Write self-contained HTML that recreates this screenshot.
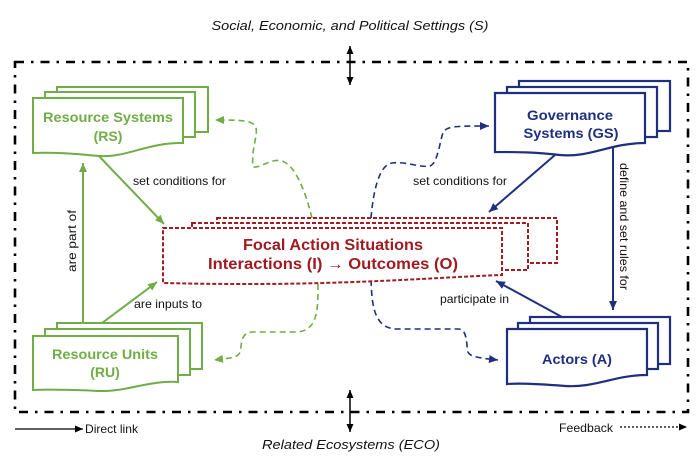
<!DOCTYPE html>
<html><head><meta charset="utf-8"><style>
html,body{margin:0;padding:0;background:#fff;}
svg{display:block;}
text{font-family:"Liberation Sans",Arial,sans-serif;}
</style></head><body>
<svg width="700" height="460" viewBox="0 0 700 460" xmlns="http://www.w3.org/2000/svg">
<defs>
<marker id="mg" markerUnits="userSpaceOnUse" markerWidth="10" markerHeight="9" refX="9" refY="4" orient="auto"><path d="M0,0 L9,4 L0,8 z" fill="#70ad47"/></marker>
<marker id="mb" markerUnits="userSpaceOnUse" markerWidth="10" markerHeight="9" refX="9" refY="4" orient="auto"><path d="M0,0 L9,4 L0,8 z" fill="#1f2f80"/></marker>
<marker id="mk" markerUnits="userSpaceOnUse" markerWidth="9" markerHeight="8" refX="8" refY="3.5" orient="auto-start-reverse"><path d="M0,0 L8,3.5 L0,7 z" fill="#000"/></marker>
</defs>
<rect width="700" height="460" fill="#fff"/>

<!-- top / bottom titles -->
<text x="350" y="30" font-size="13" font-style="italic" text-anchor="middle" textLength="277" lengthAdjust="spacingAndGlyphs" fill="#111">Social, Economic, and Political Settings (S)</text>
<text x="351" y="449" font-size="13" font-style="italic" text-anchor="middle" textLength="178" lengthAdjust="spacingAndGlyphs" fill="#111">Related Ecosystems (ECO)</text>

<!-- double arrows -->
<line x1="350" y1="46" x2="350" y2="85" stroke="#000" stroke-width="1.5" marker-start="url(#mk)" marker-end="url(#mk)"/>
<line x1="350" y1="390" x2="350" y2="432" stroke="#000" stroke-width="1.5" marker-start="url(#mk)" marker-end="url(#mk)"/>

<!-- outer frame -->
<rect x="15" y="62" width="673" height="350" fill="none" stroke="#000" stroke-width="2.6" stroke-dasharray="9 7 2.5 7"/>

<!-- legend -->
<line x1="15" y1="429" x2="83" y2="429" stroke="#000" stroke-width="1.2" marker-end="url(#mk)"/>
<text x="85" y="433" font-size="12" textLength="53" lengthAdjust="spacingAndGlyphs" fill="#111">Direct link</text>
<text x="559" y="432" font-size="12" textLength="54" lengthAdjust="spacingAndGlyphs" fill="#111">Feedback</text>
<line x1="620" y1="427" x2="687" y2="427" stroke="#000" stroke-width="1.2" stroke-dasharray="2 2" marker-end="url(#mk)"/>

<!-- dashed feedback connectors -->
<path d="M312,218 C305,190 295,165 282,161 C270,158 262,168 253,167 C251,150 258,135 256,128 C254,120 240,120 215,120" fill="none" stroke="#70ad47" stroke-width="1.6" stroke-dasharray="6 4" marker-end="url(#mg)"/>
<path d="M318,284 C318,310 318,332 295,332 L253,332 C240,332 242,345 240,352 C238,358 230,358 214,360" fill="none" stroke="#70ad47" stroke-width="1.6" stroke-dasharray="6 4" marker-end="url(#mg)"/>
<path d="M371,218 C373,195 378,165 392,163 C405,161 420,168 430,166 C438,163 440,140 443,133 C446,126 455,126 489,126" fill="none" stroke="#1f2f80" stroke-width="1.6" stroke-dasharray="6 4" marker-end="url(#mb)"/>
<path d="M371,280 C372,300 372,329 397,329 L458,329 C468,329 466,345 468,352 C470,357 480,358 498,360" fill="none" stroke="#1f2f80" stroke-width="1.6" stroke-dasharray="6 4" marker-end="url(#mb)"/>

<!-- solid direct links -->
<line x1="97" y1="154" x2="164" y2="224" stroke="#70ad47" stroke-width="2" marker-end="url(#mg)"/>
<line x1="83" y1="323" x2="83" y2="163" stroke="#70ad47" stroke-width="2" marker-end="url(#mg)"/>
<line x1="102" y1="323" x2="157" y2="282" stroke="#70ad47" stroke-width="2" marker-end="url(#mg)"/>
<line x1="555" y1="155" x2="489" y2="212" stroke="#1f2f80" stroke-width="2" marker-end="url(#mb)"/>
<line x1="613" y1="143" x2="613" y2="310" stroke="#1f2f80" stroke-width="2" marker-end="url(#mb)"/>
<line x1="562" y1="317" x2="496" y2="281" stroke="#1f2f80" stroke-width="2" marker-end="url(#mb)"/>

<!-- labels -->
<text x="133" y="185" font-size="12" textLength="93" lengthAdjust="spacingAndGlyphs" fill="#111">set conditions for</text>
<text x="413" y="185" font-size="12" textLength="94" lengthAdjust="spacingAndGlyphs" fill="#111">set conditions for</text>
<text x="134" y="308" font-size="12" textLength="68" lengthAdjust="spacingAndGlyphs" fill="#111">are inputs to</text>
<text x="440" y="303" font-size="12" textLength="69" lengthAdjust="spacingAndGlyphs" fill="#111">participate in</text>
<text transform="translate(76,272) rotate(-90)" font-size="12" textLength="62" lengthAdjust="spacingAndGlyphs" fill="#111">are  part of</text>
<text transform="translate(620,163) rotate(90)" font-size="12" textLength="127" lengthAdjust="spacingAndGlyphs" fill="#111">define and set rules for</text>

<!-- Resource Systems -->
<g fill="#fff" stroke="#70ad47" stroke-width="2">
<rect x="57" y="87" width="151" height="45"/>
<rect x="45" y="92" width="150" height="45"/>
<path d="M33,98 H183 V143 C150,142 125,158 100,156 C75,154 55,152 33,153 Z"/>
</g>
<text x="108" y="122" font-size="14" font-weight="bold" text-anchor="middle" fill="#70ad47" textLength="130" lengthAdjust="spacingAndGlyphs">Resource Systems</text>
<text x="108" y="141" font-size="14" font-weight="bold" text-anchor="middle" fill="#70ad47">(RS)</text>

<!-- Resource Units -->
<g fill="#fff" stroke="#70ad47" stroke-width="2">
<rect x="57" y="323" width="145" height="46"/>
<rect x="45" y="329" width="145" height="46"/>
<path d="M33,336 H178 V382 C150,380 125,392 100,391 C75,390 55,389 33,390 Z"/>
</g>
<text x="105" y="359" font-size="14" font-weight="bold" text-anchor="middle" fill="#70ad47" textLength="106" lengthAdjust="spacingAndGlyphs">Resource Units</text>
<text x="105" y="377" font-size="14" font-weight="bold" text-anchor="middle" fill="#70ad47">(RU)</text>

<!-- Governance Systems -->
<g fill="#fff" stroke="#1f2f80" stroke-width="2.2">
<rect x="519" y="81" width="151" height="50"/>
<rect x="507" y="87" width="150" height="50"/>
<path d="M495,93 H645 V143 C610,143 590,158 560,155 C535,152 515,152 495,152 Z"/>
</g>
<text x="570" y="120" font-size="14" font-weight="bold" text-anchor="middle" fill="#1f2f80" textLength="86" lengthAdjust="spacingAndGlyphs">Governance</text>
<text x="571" y="138" font-size="14" font-weight="bold" text-anchor="middle" fill="#1f2f80" textLength="95" lengthAdjust="spacingAndGlyphs">Systems (GS)</text>

<!-- Actors -->
<g fill="#fff" stroke="#1f2f80" stroke-width="2.2">
<rect x="530" y="317" width="140" height="47"/>
<rect x="518" y="323" width="140" height="46"/>
<path d="M507,329 H647 V375 C615,375 595,388 565,386 C540,384 520,383 507,384 Z"/>
</g>
<text x="577" y="364" font-size="14" font-weight="bold" text-anchor="middle" fill="#1f2f80" textLength="70" lengthAdjust="spacingAndGlyphs">Actors (A)</text>

<!-- Focal Action Situations -->
<g fill="#fff" stroke="#a11d24" stroke-width="2" stroke-dasharray="4 2">
<rect x="217" y="218" width="340" height="45"/>
<rect x="192" y="223" width="336" height="47"/>
<path d="M163,228 H502 V275 C420,278 330,287 163,283 Z"/>
</g>
<text x="333" y="250" font-size="16" font-weight="bold" text-anchor="middle" fill="#9e1b22" textLength="180" lengthAdjust="spacingAndGlyphs">Focal Action Situations</text>
<text x="333" y="269" font-size="16" font-weight="bold" text-anchor="middle" fill="#9e1b22" textLength="250" lengthAdjust="spacingAndGlyphs">Interactions (I) → Outcomes (O)</text>
</svg>
</body></html>
